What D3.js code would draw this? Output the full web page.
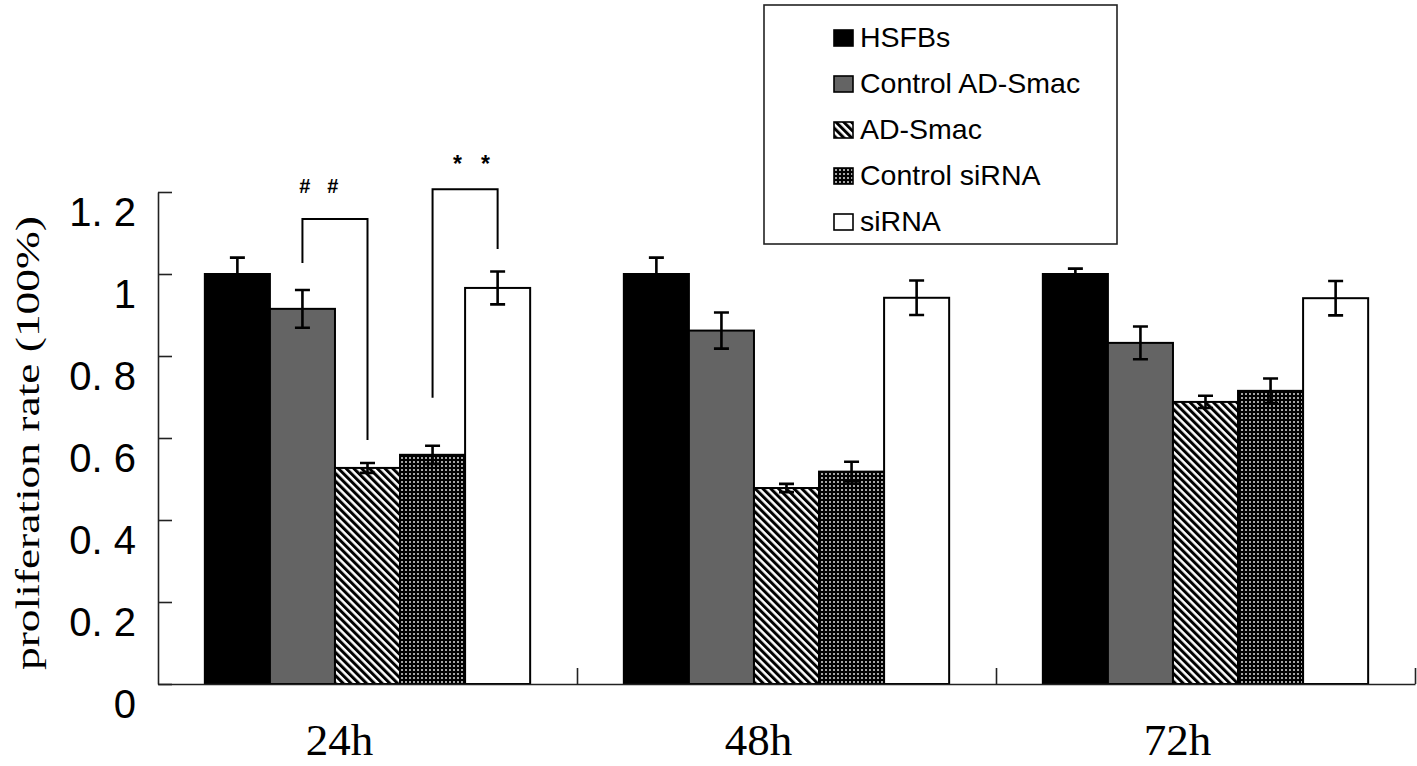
<!DOCTYPE html>
<html>
<head>
<meta charset="utf-8">
<script src="https://cdn.jsdelivr.net/npm/d3@7"></script>
<style>
  html, body { margin: 0; padding: 0; background: #fff; }
  svg { display: block; }
</style>
</head>
<body>
<div id="svg-container"></div>
<script>
////////////////////////////  Data  ////////////////////////////
const categories = ["24h", "48h", "72h"];
const series = ["HSFBs", "Control AD-Smac", "AD-Smac", "Control siRNA", "siRNA"];

const hsfbs = [1.0, 1.0, 1.0];
const controlAdSmac = [0.915, 0.862, 0.832];
const adSmac = [0.527, 0.478, 0.688];
const controlSirna = [0.559, 0.518, 0.715];
const sirna = [0.966, 0.942, 0.941];

const hsfbsErr = [0.04, 0.04, 0.013];
const controlAdSmacErr = [0.046, 0.044, 0.04];
const adSmacErr = [0.012, 0.01, 0.015];
const controlSirnaErr = [0.022, 0.024, 0.03];
const sirnaErr = [0.04, 0.042, 0.042];

const yTicks = [0, 0.2, 0.4, 0.6, 0.8, 1, 1.2];
const yTickLabels = ["0", "0. 2", "0. 4", "0. 6", "0. 8", "1", "1. 2"];

// significance brackets (leg heights in data units)
const brackets = [
  { cat: "24h", from: "Control AD-Smac", to: "AD-Smac", yFrom: 1.027, yTop: 1.134, yTo: 0.595, mark: "#", at: 0.25, markY: 1.198 },
  { cat: "24h", from: "Control siRNA", to: "siRNA", yFrom: 0.698, yTop: 1.207, yTo: 1.061, mark: "*", at: 0.6, markY: 1.25 }
];

const values = [hsfbs, controlAdSmac, adSmac, controlSirna, sirna];
const errors = [hsfbsErr, controlAdSmacErr, adSmacErr, controlSirnaErr, sirnaErr];

////////////////////////////  Init  ////////////////////////////
const width = 1417;
const height = 766;
const margin = { top: 192, right: 2, bottom: 82, left: 158 };

const svg = d3.select("#svg-container").append("svg")
  .attr("width", width).attr("height", height)
  .style("background", "#fff");

const fills = ["#000", "#646464", "url(#hatch)", "url(#dots)", "#fff"];

// patterns
const defs = svg.append("defs");
const hatch = defs.append("pattern")
  .attr("id", "hatch")
  .attr("patternUnits", "userSpaceOnUse")
  .attr("width", 5.5).attr("height", 5.5)
  .attr("patternTransform", "rotate(-45)");
hatch.append("rect").attr("width", 5.5).attr("height", 5.5).attr("fill", "#fff");
hatch.append("rect").attr("width", 3).attr("height", 5.5).attr("fill", "#000");

const dots = defs.append("pattern")
  .attr("id", "dots")
  .attr("patternUnits", "userSpaceOnUse")
  .attr("width", 4).attr("height", 4);
dots.append("rect").attr("width", 4).attr("height", 4).attr("fill", "#000");
dots.append("rect").attr("x", 1.2).attr("y", 1.2).attr("width", 1.6).attr("height", 1.6).attr("fill", "#fff");

// scales
const xScale = d3.scaleBand()
  .domain(categories)
  .range([margin.left, width - margin.right])
  .padding(0);

const xSub = d3.scaleBand()
  .domain(series)
  .range([0, xScale.bandwidth()])
  .paddingInner(0)
  .paddingOuter(0.72);

const xEdge = d3.scaleLinear()
  .domain([0, categories.length])
  .range([margin.left, width - margin.right]);

const yScale = d3.scaleLinear()
  .domain([0, 1.2])
  .range([height - margin.bottom, margin.top]);

////////////////////////////  Bars  ////////////////////////////
const rows = [];
categories.forEach((c, ci) => {
  series.forEach((s, si) => {
    rows.push({ cat: c, s: s, si: si, v: values[si][ci], e: errors[si][ci] });
  });
});

svg.append("g")
  .selectAll("rect")
  .data(rows)
  .join("rect")
  .attr("x", (d) => xScale(d.cat) + xSub(d.s))
  .attr("y", (d) => yScale(d.v))
  .attr("width", xSub.bandwidth())
  .attr("height", (d) => yScale(0) - yScale(d.v))
  .attr("fill", (d) => fills[d.si])
  .attr("stroke", "#000")
  .attr("stroke-width", 2);

// error bars
const capW = 15;
const err = svg.append("g")
  .attr("stroke", "#000")
  .attr("stroke-width", 2.6)
  .attr("fill", "none");

err.selectAll("path")
  .data(rows)
  .join("path")
  .attr("d", (d) => {
    const cx = xScale(d.cat) + xSub(d.s) + xSub.bandwidth() / 2;
    const y0 = yScale(d.v - d.e);
    const y1 = yScale(d.v + d.e);
    return `M${cx},${y0}V${y1}M${cx - capW / 2},${y0}H${cx + capW / 2}M${cx - capW / 2},${y1}H${cx + capW / 2}`;
  });

////////////////////////////  Axes  ////////////////////////////
const yAxis = d3.axisLeft(yScale)
  .tickValues(yTicks)
  .tickFormat((d, i) => yTickLabels[i])
  .tickSizeInner(-14)
  .tickSizeOuter(0)
  .tickPadding(22);

const gy = svg.append("g")
  .attr("transform", `translate(${margin.left}, 0)`)
  .call(yAxis);
gy.select(".domain").attr("stroke", "#222").attr("stroke-width", 1.6);
gy.selectAll(".tick line").attr("stroke", "#222").attr("stroke-width", 1.6);
gy.selectAll(".tick text")
  .attr("dy", 33)
  .attr("fill", "#000")
  .style("font-family", "'Liberation Sans', Arial, sans-serif")
  .style("font-size", "40px");

// category boundary ticks
const xEdgeAxis = d3.axisBottom(xEdge)
  .tickValues([1, 2, 3])
  .tickFormat("")
  .tickSizeInner(-16)
  .tickSizeOuter(0);

const gx = svg.append("g")
  .attr("transform", `translate(0, ${height - margin.bottom})`)
  .call(xEdgeAxis);
gx.select(".domain").attr("stroke", "#222").attr("stroke-width", 1.6);
gx.selectAll(".tick line").attr("stroke", "#222").attr("stroke-width", 1.6);

// category labels
const xAxis = d3.axisBottom(xScale).tickSize(0).tickPadding(0);
const gxl = svg.append("g")
  .attr("transform", `translate(0, ${height - margin.bottom})`)
  .call(xAxis);
gxl.select(".domain").remove();
gxl.selectAll(".tick text")
  .attr("dx", -28)
  .attr("dy", 71)
  .attr("fill", "#000")
  .style("font-family", "'Liberation Serif', 'Times New Roman', serif")
  .style("font-size", "45px");

// y title
svg.append("text")
  .attr("transform", `translate(39, 443) rotate(-90)`)
  .attr("text-anchor", "middle")
  .attr("textLength", 454)
  .attr("lengthAdjust", "spacingAndGlyphs")
  .style("font-family", "'Liberation Serif', 'Times New Roman', serif")
  .style("font-size", "34px")
  .text("proliferation  rate (100%)");

////////////////////////////  Brackets  ////////////////////////////
const bx = (cat, s) => xScale(cat) + xSub(s) + xSub.bandwidth() / 2;

svg.append("g")
  .selectAll("path")
  .data(brackets)
  .join("path")
  .attr("fill", "none")
  .attr("stroke", "#000")
  .attr("stroke-width", 2)
  .attr("d", (b) => {
    const x0 = bx(b.cat, b.from);
    const x1 = bx(b.cat, b.to);
    return `M${x0},${yScale(b.yFrom)}V${yScale(b.yTop)}H${x1}V${yScale(b.yTo)}`;
  });

brackets.forEach((b) => {
  const x0 = bx(b.cat, b.from);
  const x1 = bx(b.cat, b.to);
  const cx = x0 + (x1 - x0) * b.at;
  [-14, 14].forEach((dx) => {
    svg.append("text")
      .attr("x", cx + dx)
      .attr("y", yScale(b.markY))
      .attr("text-anchor", "middle")
      .style("font-family", "'Liberation Sans', Arial, sans-serif")
      .style("font-weight", "bold")
      .style("font-size", b.mark === "*" ? "23px" : "20px")
      .text(b.mark);
  });
});

////////////////////////////  Legend  ////////////////////////////
const legend = svg.append("g");
legend.append("rect")
  .attr("x", 764).attr("y", 5)
  .attr("width", 353).attr("height", 239)
  .attr("fill", "#fff")
  .attr("stroke", "#222")
  .attr("stroke-width", 1.6);

const legendY = d3.scalePoint()
  .domain(series)
  .range([38, 222]);

const items = legend.selectAll("g.item")
  .data(series)
  .join("g")
  .attr("class", "item")
  .attr("transform", (d) => `translate(834, ${legendY(d)})`);

items.append("rect")
  .attr("x", 0).attr("y", -8)
  .attr("width", 19).attr("height", 16)
  .attr("fill", (d, i) => fills[i])
  .attr("stroke", "#000")
  .attr("stroke-width", 1.6);

items.append("text")
  .attr("x", 26)
  .attr("y", 9)
  .style("font-family", "'Liberation Sans', Arial, sans-serif")
  .style("font-size", "28.5px")
  .text((d) => d);
</script>
</body>
</html>
